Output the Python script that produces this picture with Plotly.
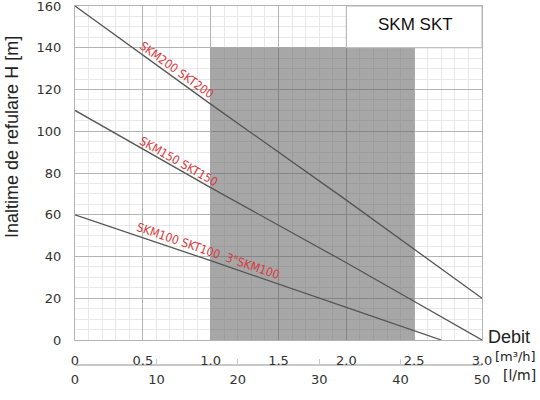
import plotly.graph_objects as go

# debit in m3/h, head in m
skm200_q = [0.0, 1.0, 2.0, 3.0]
skm200_h = [160, 113, 67, 20]
skm150_q = [0.0, 1.0, 2.0, 3.0]
skm150_h = [110, 73, 37, 0]
skm100_q = [0.0, 1.0, 2.0, 2.7]
skm100_h = [60, 38, 15.6, 0]

x_ticks = [0, 0.5, 1.0, 1.5, 2.0, 2.5, 3.0]
x_labels = ["0", "0.5", "1.0", "1.5", "2.0", "2.5", "3.0"]
lpm_ticks = [0, 10, 20, 30, 40, 50]

work_zone = dict(q0=1.0, q1=2.5, h1=140)

RED = "#d83a3e"
LINE = "#555555"
GRID = "#b4b4b4"
label_font = dict(family="Liberation Sans Narrow, DejaVu Sans Condensed, Liberation Sans",
                  size=12, color=RED)

fig = go.Figure()
for q, h in [(skm200_q, skm200_h), (skm150_q, skm150_h), (skm100_q, skm100_h)]:
    fig.add_trace(go.Scatter(x=q, y=h, mode="lines", line=dict(color=LINE, width=1.3),
                             showlegend=False, hoverinfo="skip"))

# dummy trace for l/m axis
fig.add_trace(go.Scatter(x=[0, 50], y=[0, 0], xaxis="x2", mode="lines",
                         line=dict(width=0), showlegend=False, hoverinfo="skip"))

fig.add_shape(type="rect", x0=work_zone["q0"], x1=work_zone["q1"], y0=0, y1=work_zone["h1"],
              xref="x", yref="y", layer="between", line=dict(width=0),
              fillcolor="rgba(95,95,95,0.55)")
fig.add_shape(type="rect", x0=2.0, x1=3.0, y0=140, y1=160, xref="x", yref="y",
              layer="between", line=dict(color=GRID, width=1), fillcolor="white")

fig.add_annotation(x=2.51, y=151, text="SKM SKT", showarrow=False,
                   font=dict(family="Liberation Sans", size=17, color="#111"))

fig.add_annotation(x=0.75, y=129.5, text="SKM200 SKT200", textangle=35.7,
                   showarrow=False, font=label_font)
fig.add_annotation(x=0.77, y=85.5, text="SKM150 SKT150", textangle=29.4,
                   showarrow=False, font=label_font)
fig.add_annotation(x=0.98, y=42.5, text='SKM100 SKT100  3"SKM100', textangle=18.9,
                   showarrow=False, font=label_font)

fig.add_annotation(x=-0.155, y=0.635, xref="paper", yref="paper",
                   xanchor="center", yanchor="middle",
                   text="Inaltime de refulare H [m]", textangle=-90, showarrow=False,
                   font=dict(family="Liberation Sans", size=18, color="#222"))
fig.add_annotation(x=3.0, y=0.078, xref="x", yref="paper", xanchor="left", yanchor="middle",
                   xshift=4, text="Debit", showarrow=False,
                   font=dict(family="Liberation Sans", size=18, color="#222"))
fig.add_annotation(x=3.0, y=0.025, xref="x", yref="paper", xanchor="left", yanchor="middle",
                   xshift=11, text="[m³/h]", showarrow=False,
                   font=dict(family="DejaVu Sans", size=13, color="#222"))
fig.add_annotation(x=3.0, y=-0.028, xref="x", yref="paper", xanchor="left", yanchor="middle",
                   xshift=19, text="[l/m]", showarrow=False,
                   font=dict(family="DejaVu Sans", size=14, color="#222"))

tick_font = dict(family="DejaVu Sans", size=13, color="#333")
fig.update_layout(
    width=540, height=400,
    margin=dict(l=75, r=58, t=6, b=35, autoexpand=False),
    paper_bgcolor="white", plot_bgcolor="white",
    xaxis=dict(range=[0, 3.0], tickvals=x_ticks, ticktext=x_labels, anchor="y",
               showgrid=True, gridcolor=GRID, gridwidth=1,
               minor=dict(dtick=0.1, showgrid=True, gridcolor="#e8e8e8"),
               showline=True, mirror=True, linecolor=GRID, zeroline=False,
               ticks="", ticklabelstandoff=8, tickfont=tick_font,
               automargin=False, ticklabeloverflow="allow"),
    xaxis2=dict(range=[0, 50], tickvals=lpm_ticks, overlaying="x", anchor="free",
                position=0, side="bottom", showgrid=False, zeroline=False,
                showline=True, linecolor="#c8c8c8", linewidth=2,
                ticks="inside", ticklen=5, tickcolor="#c8c8c8",
                ticklabelstandoff=2, tickfont=tick_font,
                automargin=False, ticklabeloverflow="allow"),
    yaxis=dict(range=[0, 160], dtick=20, domain=[0.0696, 1],
               showgrid=True, gridcolor=GRID, gridwidth=1,
               minor=dict(dtick=5, showgrid=True, gridcolor="#e8e8e8"),
               showline=True, mirror=True, linecolor=GRID, zeroline=False,
               ticks="", ticklabelstandoff=10, tickfont=tick_font,
               automargin=False, ticklabeloverflow="allow"),
)

# page body has a default 8px margin; remove it so the figure sits at the corner
fig.write_html("out.html", config={"displayModeBar": False},
               post_script="document.body.style.margin='0';")
